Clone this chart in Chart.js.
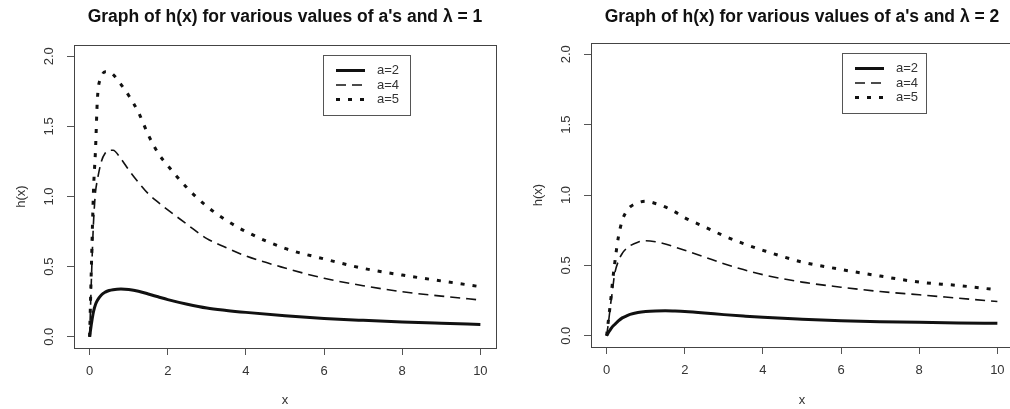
<!DOCTYPE html>
<html lang="en">
<head>
<meta charset="UTF-8">
<title>Graph of h(x) for various values of a's and lambda</title>
<script src="https://cdn.jsdelivr.net/npm/chart.js"></script>
<style>
  html, body { margin: 0; padding: 0; background: #fff; overflow: hidden; width: 1010px; height: 409px; }
  canvas { position: absolute; top: 0; }
  #left { left: 0; }
  #right { left: 505px; }
</style>
</head>
<body>
<canvas id="left" width="505" height="409"></canvas>
<canvas id="right" width="512" height="409"></canvas>
<script>
// values
const titles = ["Graph of h(x) for various values of a's and \u03BB = 1",
                "Graph of h(x) for various values of a's and \u03BB = 2"];
const seriesLabels = ['a=2', 'a=4', 'a=5'];
const xTicks = [0, 2, 4, 6, 8, 10];
const xTickLabels = ['0', '2', '4', '6', '8', '10'];
const yTicks = [0, 0.5, 1, 1.5, 2];
const yTickLabels = ['0.0', '0.5', '1.0', '1.5', '2.0'];

const xs = [0, 0.05, 0.1, 0.15, 0.2, 0.3, 0.4, 0.5, 0.6, 0.8, 1, 1.25, 1.5, 1.75, 2, 2.5, 3, 3.5, 4, 5, 6, 7, 8, 9, 10];

// lambda = 1
const l1a2 = [0, 0.10, 0.18, 0.23, 0.26, 0.298, 0.318, 0.33, 0.336, 0.34, 0.337, 0.325, 0.305, 0.285, 0.265, 0.232, 0.205, 0.188, 0.174, 0.15, 0.131, 0.117, 0.105, 0.096, 0.088];
const l1a4 = [0, 0.45, 0.82, 1.03, 1.12, 1.25, 1.31, 1.33, 1.33, 1.27, 1.19, 1.10, 1.02, 0.96, 0.905, 0.80, 0.70, 0.635, 0.576, 0.49, 0.417, 0.364, 0.321, 0.29, 0.262];
const l1a5 = [0, 0.55, 1.05, 1.33, 1.70, 1.85, 1.89, 1.89, 1.87, 1.80, 1.72, 1.60, 1.44, 1.31, 1.22, 1.06, 0.93, 0.83, 0.75, 0.63, 0.555, 0.488, 0.44, 0.398, 0.357];
// lambda = 2
const l2a2 = [0, 0.025, 0.045, 0.065, 0.078, 0.105, 0.127, 0.14, 0.152, 0.165, 0.172, 0.176, 0.177, 0.175, 0.172, 0.162, 0.15, 0.14, 0.131, 0.118, 0.107, 0.10, 0.095, 0.091, 0.088];
const l2a4 = [0, 0.10, 0.22, 0.32, 0.43, 0.53, 0.585, 0.618, 0.64, 0.665, 0.675, 0.668, 0.652, 0.63, 0.607, 0.56, 0.512, 0.47, 0.434, 0.381, 0.345, 0.314, 0.291, 0.267, 0.243];
const l2a5 = [0, 0.12, 0.24, 0.38, 0.50, 0.70, 0.82, 0.88, 0.915, 0.945, 0.955, 0.94, 0.915, 0.88, 0.838, 0.775, 0.71, 0.655, 0.607, 0.524, 0.471, 0.424, 0.381, 0.357, 0.326];

const FONT = '"Liberation Sans", Arial, sans-serif';
const styles = [
  { borderWidth: 3, borderDash: [] },
  { borderWidth: 1.6, borderDash: [10, 6] },
  { borderWidth: 3, borderDash: [4, 8] }
];

// frame, title, rotated y labels and legend drawn the R way
const rBase = {
  id: 'rBase',
  afterDatasetsDraw(chart, args, opts) {
    const ctx = chart.ctx, a = chart.chartArea;
    ctx.save();
    ctx.strokeStyle = '#444';
    ctx.lineWidth = 1;
    ctx.setLineDash([]);
    ctx.strokeRect(Math.round(a.left) + 0.5, Math.round(a.top) + 0.5,
                   Math.round(a.right - a.left), Math.round(a.bottom - a.top));

    ctx.fillStyle = '#111';
    ctx.font = 'bold 17.5px ' + FONT;
    ctx.textAlign = 'center';
    ctx.textBaseline = 'middle';
    ctx.fillText(opts.title, (a.left + a.right) / 2, 17);

    const ys = chart.scales.y;
    ctx.font = '13px ' + FONT;
    ctx.fillStyle = '#333';
    ys.ticks.forEach((t, i) => {
      ctx.save();
      ctx.translate(a.left - 25, ys.getPixelForValue(t.value));
      ctx.rotate(-Math.PI / 2);
      ctx.fillText(yTickLabels[i], 0, 0);
      ctx.restore();
    });

    // legend
    const L = opts.legend;
    ctx.strokeStyle = '#555';
    ctx.lineWidth = 1;
    ctx.strokeRect(L.x + 0.5, L.y + 0.5, L.w, L.h);
    ctx.textAlign = 'left';
    chart.data.datasets.forEach((ds, i) => {
      const yy = L.y + 15.5 + i * 14.5;
      ctx.strokeStyle = '#111';
      ctx.lineWidth = ds.borderWidth;
      ctx.lineCap = 'butt';
      ctx.setLineDash(ds.borderDash);
      ctx.beginPath();
      ctx.moveTo(L.x + 13, yy);
      ctx.lineTo(L.x + 42, yy);
      ctx.stroke();
      ctx.setLineDash([]);
      ctx.fillStyle = '#333';
      ctx.fillText(ds.label, L.x + 54, yy);
    });
    ctx.restore();
  }
};

function makePanel(id, title, series, g) {
  const canvas = document.getElementById(id);
  return new Chart(canvas, {
    type: 'line',
    data: {
      datasets: series.map((ys, i) => ({
        label: seriesLabels[i],
        data: xs.map((x, k) => ({ x: x, y: ys[k] })),
        borderColor: '#111',
        borderWidth: styles[i].borderWidth,
        borderDash: styles[i].borderDash,
        borderCapStyle: 'butt',
        pointRadius: 0,
        cubicInterpolationMode: 'monotone',
        fill: false
      }))
    },
    options: {
      responsive: false,
      animation: false,
      devicePixelRatio: 1,
      layout: { padding: { left: 0, top: g.top, right: canvas.width - g.right, bottom: 0 } },
      plugins: {
        legend: { display: false },
        tooltip: { enabled: false },
        rBase: { title: title, legend: g.legend }
      },
      scales: {
        x: {
          type: 'linear',
          min: -0.4, max: 10.4,
          afterBuildTicks: s => { s.ticks = xTicks.map(v => ({ value: v })); },
          afterFit: s => { s.height = 409 - g.bottom; },
          border: { display: false },
          grid: { drawOnChartArea: false, drawTicks: true, tickLength: 7, color: '#555' },
          ticks: {
            padding: 9, color: '#333', maxRotation: 0,
            font: { family: FONT, size: 13 },
            callback: (v, i) => xTickLabels[i]
          },
          title: { display: true, text: 'x', color: '#333', font: { family: FONT, size: 13 }, padding: { top: 0, bottom: 1 } }
        },
        y: {
          min: -0.08, max: 2.08,
          afterBuildTicks: s => { s.ticks = yTicks.map(v => ({ value: v })); },
          afterFit: s => { s.width = g.left; },
          border: { display: false },
          grid: { drawOnChartArea: false, drawTicks: true, tickLength: 7, color: '#555' },
          ticks: { display: false },
          title: { display: true, text: 'h(x)', color: '#333', font: { family: FONT, size: 13 }, padding: { top: g.left - 60, bottom: 0 } }
        }
      }
    },
    plugins: [rBase]
  });
}

makePanel('left', titles[0], [l1a2, l1a4, l1a5],
  { left: 74, right: 496, top: 45, bottom: 348, legend: { x: 323, y: 55, w: 87, h: 60 } });
makePanel('right', titles[1], [l2a2, l2a4, l2a5],
  { left: 86, right: 508, top: 43, bottom: 347, legend: { x: 337, y: 53, w: 84, h: 60 } });
</script>
</body>
</html>
